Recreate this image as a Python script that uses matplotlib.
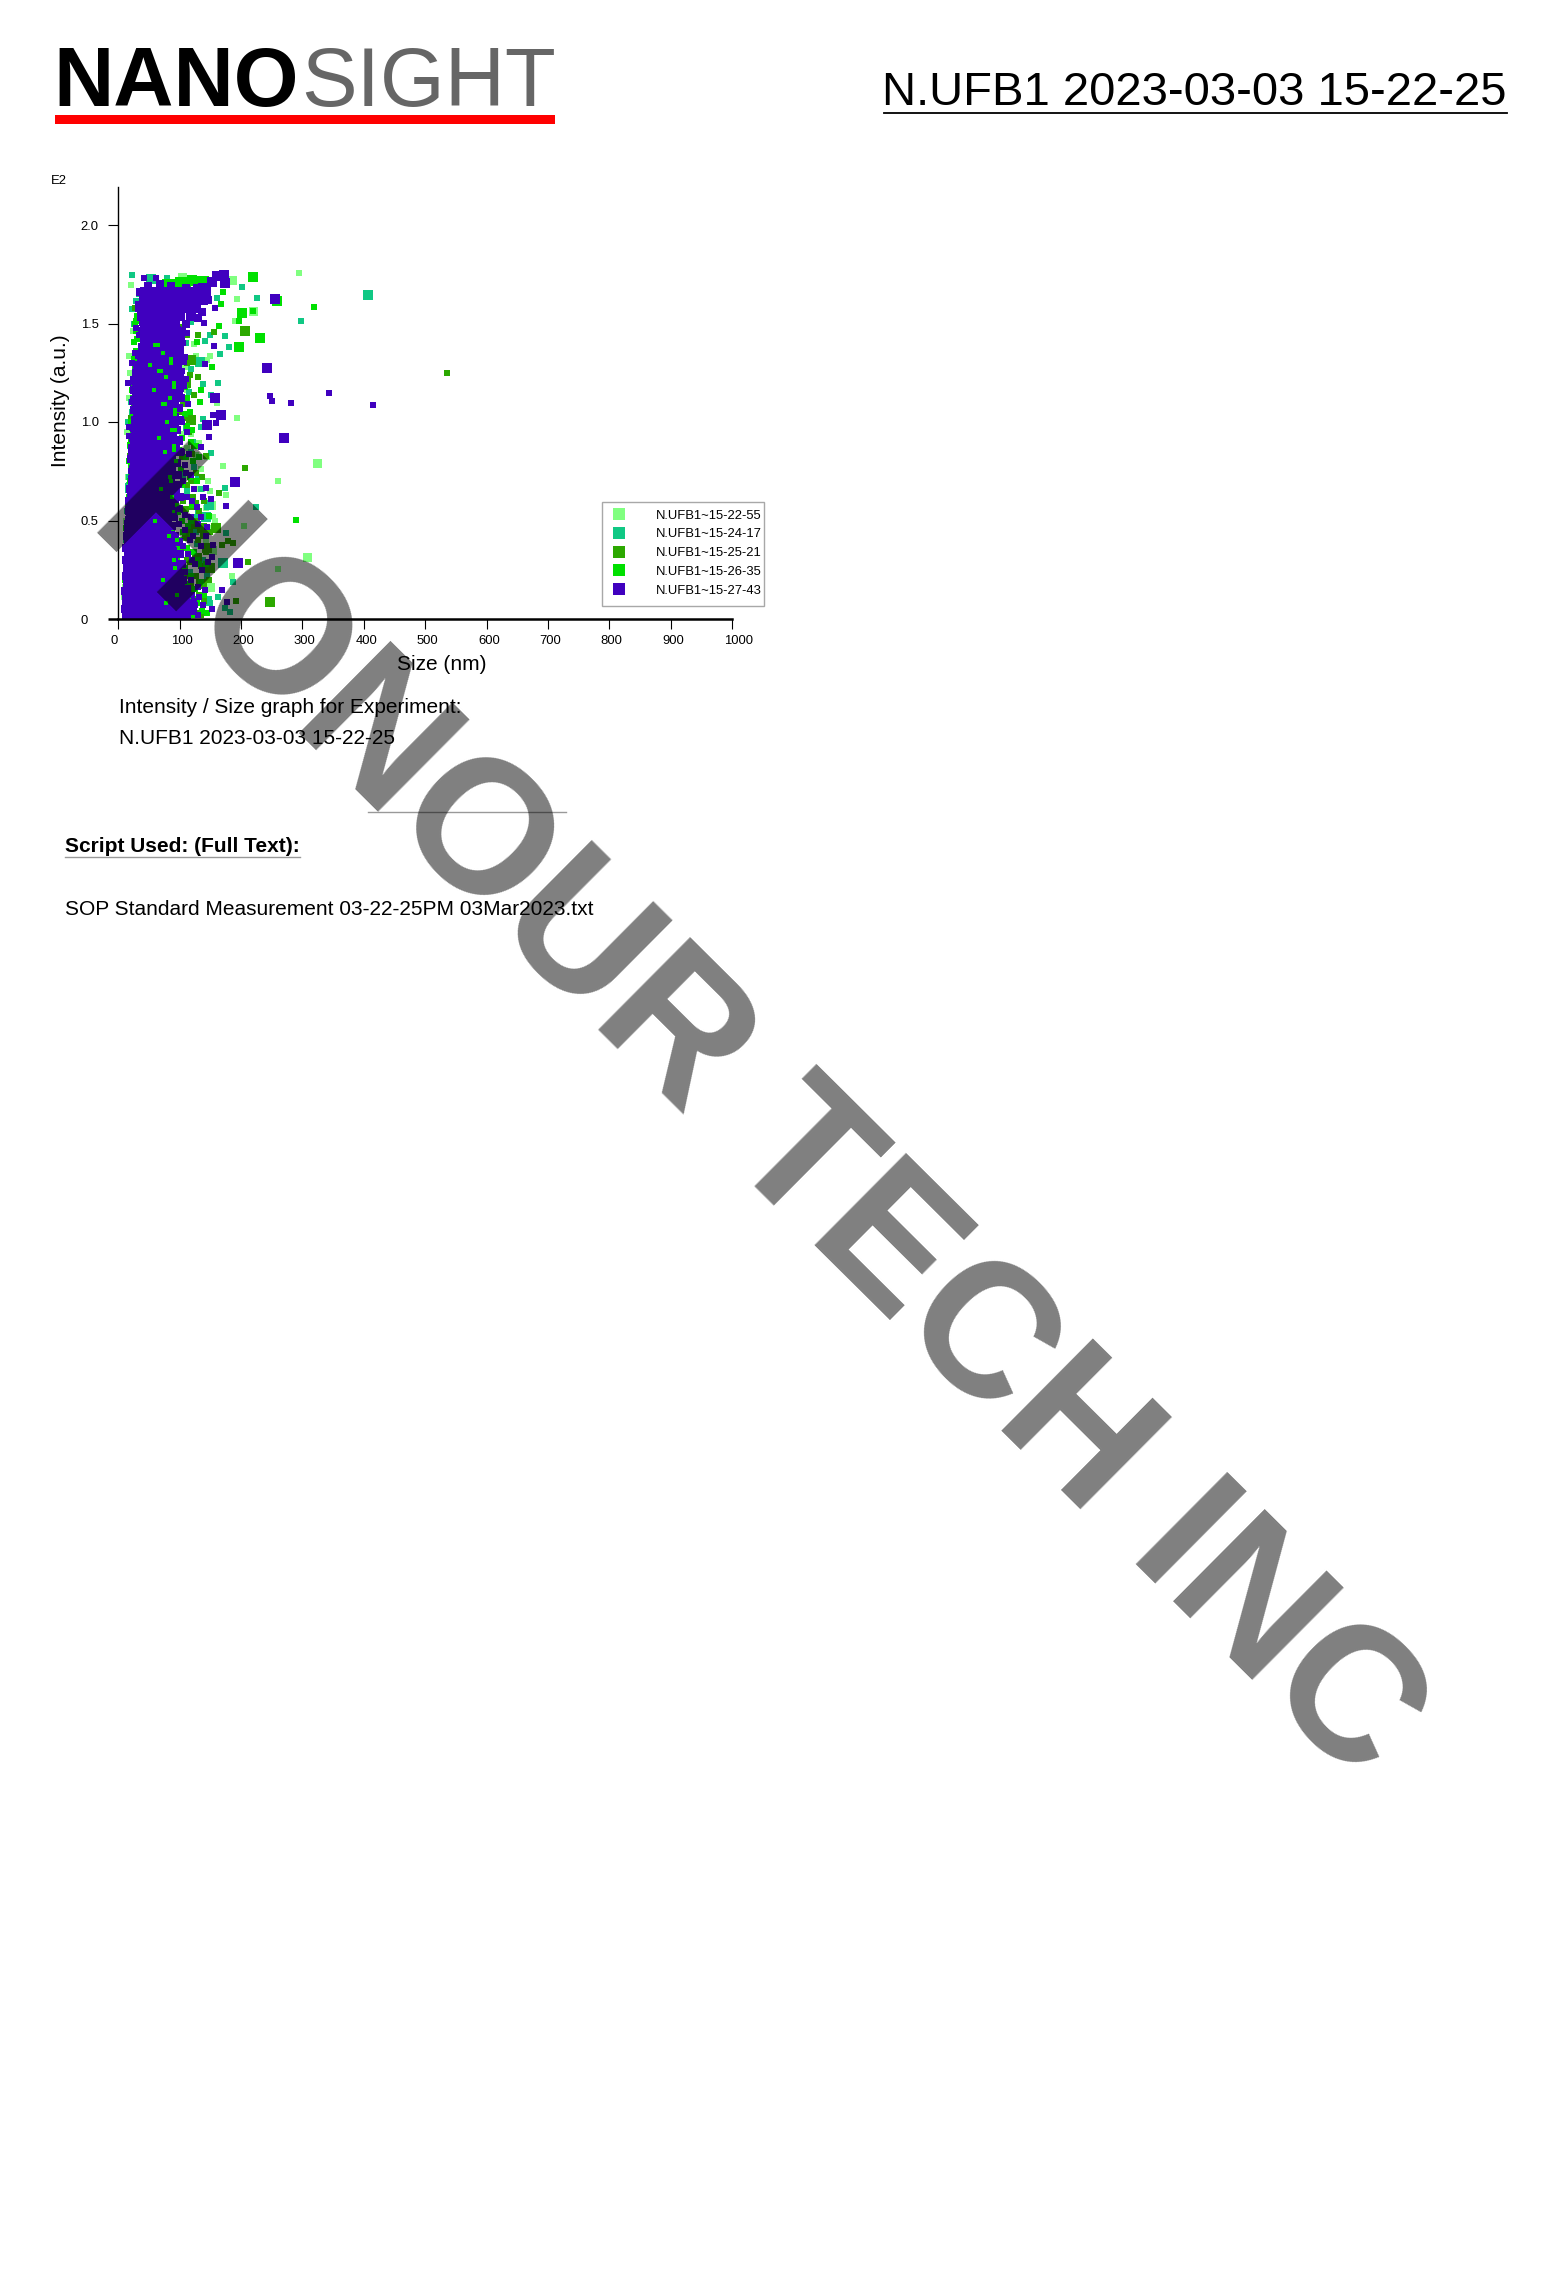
import matplotlib
matplotlib.use("Agg")
import matplotlib.pyplot as plt
from matplotlib.lines import Line2D
from matplotlib.patches import Rectangle
from matplotlib.transforms import ScaledTranslation

plt.rcParams['font.family'] = ['Liberation Sans', 'DejaVu Sans']

W, H = 1557, 2272

x_ticks = [0, 100, 200, 300, 400, 500, 600, 700, 800, 900, 1000]
y_ticks = [0, 0.5, 1.0, 1.5, 2.0]
y_tick_labels = ['0', '0.5', '1.0', '1.5', '2.0']
series_names = ['N.UFB1~15-22-55', 'N.UFB1~15-24-17', 'N.UFB1~15-25-21', 'N.UFB1~15-26-35', 'N.UFB1~15-27-43']

# light green series
light_small = [(294,1.754),(193,1.624),(190,1.513),(20,1.695),(193,1.022),(171,0.775),(260,0.70),(260,0.254),(185,0.218),
               (205,0.472),(175,0.629),(142,0.563),(158,0.497),(149,1.335),(127,1.337),(145,1.315),(123,1.396),(161,1.096),
               (18,1.335),(18,1.123),(30,1.335),(131,0.893),(95,0.904),(11,0.162),(9,0.112),(112,1.16),(118,0.94),(126,0.83),
               (134,0.76),(146,0.7),(120,0.6),(128,0.46),(142,0.4),(138,0.12),(12,0.5),(15,0.72),(24,1.46),(108,1.28),(136,0.66),(144,0.82),
               (104,1.62),(118,1.55),(112,0.87),(128,0.66),(104,0.94),(116,0.52),(150,0.65),(154,0.52),(146,0.46),(14,0.95),(19,1.25)]
light_big = [(185,1.721),(104,1.736),(220,1.563),(323,0.793),(307,0.315),(151,0.579),(152,0.35),(150,0.16)]

# teal series
teal_small = [(22,1.744),(201,1.685),(226,1.631),(160,1.631),(298,1.515),(118,1.506),(149,1.444),(174,1.439),(141,1.411),
              (181,1.383),(165,1.345),(162,1.2),(138,1.195),(151,1.135),(138,1.015),(29,1.614),(34,1.65),(22,1.574),(134,0.975),
              (151,0.843),(104,1.716),(79,1.731),(225,0.568),(175,0.437),(186,0.188),(173,0.056),(148,0.10),(162,0.112),
              (149,0.081),(182,0.036),(174,0.665),(22,1.05),(110,1.40),(104,1.33),(115,1.15),(110,0.97),(118,0.85),(124,0.77),
              (130,0.72),(135,0.66),(140,0.60),(130,0.55),(125,0.52),(132,0.46),(128,0.38),(138,0.30),(145,0.22),(140,0.08),
              (17,0.68),(18,0.72),(16,1.0),(20,1.1),(24,1.2),(28,1.32),(13,0.4),(12,0.2),
              (112,0.65),(122,0.9),(126,0.44),(116,0.24),(106,0.73),(118,1.27),(26,1.5),(19,0.88),(14,0.55)]
teal_big = [(53,1.726),(406,1.646),(133,1.305),(170,0.284),(19,0.665),(148,0.58),(142,0.52)]

# dark green series
dark_small = [(206,0.768),(191,0.091),(186,0.386),(211,0.289),(169,0.376),(178,0.396),(164,0.64),(535,1.249),(129,1.442),
              (156,1.459),(130,1.23),(123,1.137),(108,1.089),(108,1.022),(123,0.876),(143,0.827),(19,0.827),(20,1.022),
              (28,1.188),(27,1.58),(144,1.65),(112,1.30),(116,1.24),(100,1.18),(106,1.10),(100,1.05),(115,0.95),(120,0.84),
              (108,0.78),(126,0.74),(112,0.68),(122,0.62),(110,0.56),(128,0.50),(116,0.44),(130,0.40),(120,0.34),(112,0.30),
              (135,0.27),(126,0.22),(118,0.17),(131,0.12),(140,0.09),(122,0.06),(112,0.02),(135,0.02),(148,0.20),(143,0.34),
              (150,0.44),(20,0.60),(19,0.50),(21,0.44),(18,0.38),(15,0.25),(140,0.60),(132,0.55),
              (104,0.82),(118,0.70),(136,0.72),(106,0.60),(124,0.47),(138,0.42),(104,0.36),(116,0.29),(140,0.18),(108,0.22),(124,0.15),
              (108,0.08),(128,0.03),(112,1.44),(118,1.55),(106,1.48),(22,0.56),(17,0.30),(24,0.92)]
dark_big = [(206,1.462),(247,0.086),(159,0.462),(118,1.315),(110,1.20),(118,1.012),(145,0.36),(128,0.31),(150,0.26),(136,0.46),
            (124,0.58),(112,0.42),(134,0.18)]

# bright green series
bright_small = [(318,1.584),(167,1.599),(196,1.511),(164,1.487),(220,1.563),(128,1.404),(153,1.281),(135,1.162),(133,1.102),
                (290,0.504),(148,0.523),(29,1.513),(25,1.404),(20,0.878),(19,0.883),(24,0.772),(144,0.03),(170,1.662),
                (108,1.04),(112,0.98),(104,0.92),(118,0.90),(98,0.86),(110,0.82),(122,0.80),(102,0.76),(116,0.72),(128,0.70),
                (96,0.66),(108,0.62),(120,0.58),(92,0.55),(104,0.50),(114,0.47),(88,0.44),(100,0.40),(112,0.36),(124,0.34),
                (96,0.30),(108,0.26),(118,0.22),(90,0.20),(102,0.16),(116,0.12),(128,0.08),(96,0.06),(110,0.03),(122,0.02),
                (136,0.04),(104,0.10),(125,0.15),(132,0.28),(135,0.19),(12,0.02),(11,0.08),(14,0.14),(10,0.20),(13,0.26),
                (16,0.34),(14,0.40),(12,0.46),(17,0.52),(15,0.58),(18,0.66),(21,0.74),(17,0.80),(22,0.86),(24,0.94),(20,1.00),
                (26,1.08),(22,1.16),(28,1.24),(25,1.32),(30,1.42),(27,1.50),(32,1.58),
                (13,0.06),(12,0.11),(13,0.17),(12,0.23),(14,0.30),(14,0.37),(15,0.44),(15,0.50),(16,0.55),(17,0.62),(19,0.70),
                (20,0.77),(20,0.83),(21,0.90),(22,0.97),(24,1.04),(24,1.12),(25,1.20),(27,1.28),(28,1.36),(29,1.46),(30,1.54),
                (112,1.12),(108,1.18),(116,1.05),(120,0.96),(126,0.88),(132,0.82),(104,0.68),(118,0.50),(106,0.44),(120,0.42),
                (98,0.36),(128,0.30),(104,0.22),(112,0.18),(122,0.10),(100,0.02),(116,0.03),(140,0.12),(142,0.28)]
bright_big = [(220,1.736),(258,1.614),(201,1.555),(230,1.426),(123,1.718),(139,1.716),(107,1.706),(90,1.70),(100,1.71),
              (110,1.71),(120,1.72),(132,1.715),(70,1.69),(80,1.70),(196,1.38)]

# violet series: isolated marks
violet_small = [(157,1.579),(139,1.503),(156,1.386),(141,1.294),(154,1.036),(159,0.995),(148,0.924),(134,0.873),(143,0.665),
                (138,0.619),(151,0.609),(175,0.574),(144,0.467),(154,0.376),(152,0.315),(169,0.147),(177,0.086),(141,0.147),
                (125,0.071),(152,0.051),(15,1.20),(17,0.93),(18,0.975),(28,1.475),(22,1.30),(247,1.132),(250,1.107),(281,1.096),
                (343,1.147),(415,1.086),(100,1.58),(108,1.50),(112,1.45),(105,1.40),(108,1.33),(103,1.26),(110,1.22),(100,1.15),
                (113,1.09),(104,1.00),(112,0.95),(100,0.90),(115,0.84),(108,0.78),(118,0.73),(106,0.70),(124,0.66),(112,0.62),
                (128,0.57),(100,0.56),(118,0.52),(130,0.48),(108,0.45),(122,0.42),(134,0.37),(113,0.33),(125,0.28),(137,0.25),
                (118,0.20),(130,0.16),(110,0.13),(124,0.09),(138,0.07),(116,0.04),(130,0.02),(27,1.35),(24,1.22),(22,1.10),
                (20,0.85),(21,0.75),(14,0.33),(13,0.28),(16,0.56),(42,1.73),(61,1.73),
                (104,0.85),(110,0.74),(98,0.68),(120,0.60),(108,0.53),(98,0.48),(116,0.40),(106,0.37),(120,0.30),(108,0.24),(104,0.17),
                (120,0.12),(132,0.11),(106,0.08),(146,0.29),(142,0.42),(135,0.52),(32,1.60),(35,1.55),(33,1.44)]
violet_big = [(160,1.741),(172,1.746),(174,1.706),(152,1.712),(138,1.68),(255,1.624),(242,1.274),(157,1.122),(167,1.036),
              (144,0.985),(270,0.919),(190,0.695),(195,0.284),(143,1.66)]

# violet series: medium marks roughening both edges of the dense band
violet_edge = [(36,1.66),(48,1.69),(68,1.70),(86,1.69),(110,1.68),(128,1.68),(146,1.62),(137,1.56),(130,1.53),(110,1.50),(103,1.46),
               (102,1.42),(100,1.37),(105,1.31),(100,1.24),(105,1.19),(102,1.12),(98,1.07),(100,1.01),(96,0.96),(98,0.91),(100,0.85),
               (95,0.79),(97,0.73),(94,0.68),(100,0.62),(99,0.56),(90,0.52),(88,0.47),(92,0.42),(98,0.39),(101,0.33),(104,0.28),
               (106,0.20),(112,0.15),(118,0.08),(122,0.04),
               (33,1.58),(40,1.51),(38,1.46),(41,1.42),(38,1.38),(34,1.34),(31,1.29),(28,1.25),(26,1.21),(25,1.16),(25,1.11),(26,1.06),
               (27,1.01),(25,0.97),(23,0.92),(22,0.87),(21,0.81),(23,0.76),(22,0.71),(19,0.66),(18,0.60),(17,0.55),(15,0.48),(14,0.42),
               (13,0.36),(13,0.30),(12,0.22),(11,0.14),(10,0.05)]

# violet series: the dense band, by intensity level
violet_core_levels = [1.66,1.62,1.58,1.54,1.50,1.46,1.42,1.38,1.34,1.30,1.26,1.22,1.18,1.14,1.10,1.06,1.02,0.98,0.94,0.90,
                      0.86,0.82,0.78,0.74,0.70,0.66,0.62,0.58,0.54,0.50,0.46,0.42,0.38,0.34,0.30,0.26,0.22,0.18,0.14,0.10,0.06,0.02]
violet_core_sizes = [[44,57,70,85,98,110,122,134],[42,54,66,79,92,104,116,128,138],[40,52,64,77,90,103,115,127],
                     [38,50,62,75,88,100,118],[44,56,68,80,92],[46,58,70,82,94],[47,59,71,83,92],[45,57,69,81,92],
                     [42,55,67,79,91,99],[38,50,63,75,87,96],[34,46,59,71,83,94],[32,44,57,69,81,93,99],[30,42,55,67,79,91,98],
                     [30,42,54,66,78,90,97],[31,43,55,67,79,90],[32,44,56,68,80,88],[32,44,56,68,80,90],[30,42,54,66,78,90],
                     [28,40,52,64,76,88],[27,39,51,63,75,87],[26,38,50,62,74,86,92],[26,38,50,62,74,86],[27,39,51,63,75,86],
                     [26,38,50,62,74,85],[24,36,48,60,72,84],[23,35,47,59,71,84,92],[22,34,46,58,70,82,90],[21,33,45,57,69,81,90],
                     [20,32,44,56,68,80],[19,31,43,55,67,79],[18,30,42,54,66,78],[18,30,42,54,66,78,84],[17,29,41,53,65,77,86],
                     [17,29,41,53,65,77,88],[17,29,41,53,65,77,89],[16,28,40,52,64,76,88,96],[16,28,40,52,64,76,88,98],
                     [15,27,39,51,63,75,87,99],[15,27,39,51,63,75,87,100],[14,26,38,50,62,74,86,98,108],
                     [14,26,38,50,62,74,86,98,110],[14,26,38,50,62,74,86,98,110]]

# bright green marks seen through gaps of the dense band
gap_marks = [(60,1.39),(64,1.39),(72,1.35),(85,1.32),(85,1.30),(52,1.29),(66,1.26),(70,1.26),(78,1.23),(90,1.2),(90,1.18),(58,1.16),
             (84,1.12),(72,1.09),(76,1.09),(92,1.06),(92,1.04),(80,1.0),(88,0.96),(92,0.96),(66,0.92),(90,0.88),(90,0.86),(76,0.85),
             (94,0.80),(84,0.72),(86,0.70),(70,0.66),(88,0.62),(60,0.50),(82,0.42),(90,0.3),(72,0.2),(95,0.12),(78,0.08),
             (96,0.40),(92,0.26),(98,0.54),(96,0.58)]

COLORS = ['#80FF80', '#10C884', '#2CA800', '#00E000', '#4000BF']


def msize(px):
    return (px * 0.72) ** 2


def fx(px):
    return px / W


def fy(py):
    return 1 - py / H


fig = plt.figure(figsize=(W / 100, H / 100), dpi=100, facecolor='white')
ax = fig.add_axes([fx(118.4), fy(619), (732 - 118.4) / W, (619 - 187) / H])
ax.set_xlim(0, 1000)
ax.set_ylim(0, 432 / 197)


def draw(points, color, px):
    ax.scatter([p[0] for p in points], [p[1] for p in points], marker='s', s=msize(px), color=color, linewidths=0)


draw(light_small, COLORS[0], 6)
draw(light_big, COLORS[0], 9)
draw(teal_small, COLORS[1], 6)
draw(teal_big, COLORS[1], 10)
draw(dark_small, COLORS[2], 6)
draw(dark_big, COLORS[2], 10)
draw(bright_small, COLORS[3], 6)
draw(bright_big, COLORS[3], 10)
core = [(x, lvl) for lvl, row in zip(violet_core_levels, violet_core_sizes) for x in row]
draw(core, COLORS[4], 9.5)
draw(violet_edge, COLORS[4], 8)
draw(gap_marks, COLORS[3], 3.5)
draw(violet_small, COLORS[4], 6)
draw(violet_big, COLORS[4], 9.5)

for s in ('top', 'right'):
    ax.spines[s].set_visible(False)
ax.spines['left'].set_linewidth(1.0)
ax.spines['bottom'].set_linewidth(1.8)
ax.set_xticks(x_ticks)
ax.set_xticklabels([str(v) for v in x_ticks], fontsize=9.4)
ax.set_yticks(y_ticks)
ax.set_yticklabels(y_tick_labels, fontsize=9.4, ha='left')
ax.tick_params(axis='x', length=7.2, width=0.8, pad=4.3)
ax.tick_params(axis='y', length=7.2, width=0.8, pad=20)
ax.yaxis.get_major_ticks()[0].tick1line.set_markeredgewidth(1.8)
for lab, v in zip(ax.get_xticklabels(), x_ticks):
    dx = -4.5 if v == 0 else (7 if v == 1000 else 2.3)
    lab.set_transform(lab.get_transform() + ScaledTranslation(dx / 100, 0, fig.dpi_scale_trans))

ax.add_patch(Rectangle((fx(602), fy(606)), 162 / W, 104 / H, transform=fig.transFigure, clip_on=False,
                       facecolor='white', edgecolor='#A8A8A8', linewidth=1.0, zorder=4))
handles = [Line2D([], [], linestyle='none', marker='s', markersize=8, markerfacecolor=c, markeredgewidth=0) for c in COLORS]
leg = ax.legend(handles, series_names, loc='upper left', bbox_to_anchor=(fx(607.5), fy(509.5)),
                bbox_transform=fig.transFigure, fontsize=9.4, frameon=False, borderaxespad=0, borderpad=0,
                labelspacing=0.505, handletextpad=2.0, handlelength=1.7)
leg.set_zorder(5)

fig.text(fx(51), fy(181), 'E2', fontsize=9.4, va='center')
fig.text(fx(61), fy(401), 'Intensity (a.u.)', fontsize=15, rotation=90, ha='center', va='center')
fig.text(fx(442), fy(665), 'Size (nm)', fontsize=15, ha='center', va='center')
fig.text(fx(119), fy(707.5), 'Intensity / Size graph for Experiment:', fontsize=15, va='center')
fig.text(fx(119), fy(738.5), 'N.UFB1 2023-03-03 15-22-25', fontsize=15, va='center')
fig.text(fx(65), fy(846.5), 'Script Used: (Full Text):', fontsize=15, fontweight='bold', va='center')
fig.text(fx(65), fy(909.5), 'SOP Standard Measurement 03-22-25PM 03Mar2023.txt', fontsize=15, va='center')

fig.add_artist(Line2D([fx(368), fx(566)], [fy(812), fy(812)], color='#999999', lw=1.0))
fig.add_artist(Line2D([fx(65), fx(300)], [fy(857), fy(857)], color='#999999', lw=1.0))

fig.text(fx(53), fy(106), 'NANO', fontsize=60, fontweight='bold', color='black', va='baseline')
fig.text(fx(301), fy(106), 'SIGHT', fontsize=60, color='#666666', va='baseline')
fig.patches.append(Rectangle((fx(55), fy(124)), 500 / W, 9 / H, transform=fig.transFigure, color='#FF0000', lw=0))

fig.text(fx(1507), fy(105), 'N.UFB1 2023-03-03 15-22-25', fontsize=33.9, ha='right', va='baseline')
fig.add_artist(Line2D([fx(884), fx(1507)], [fy(113), fy(113)], color='black', lw=1.3))

fig.text(fx(757), fy(1120), 'HONOUR TECH INC', fontsize=136.5, fontweight='bold', color='black', alpha=0.5,
         rotation=-44.8, rotation_mode='anchor', ha='center', va='center', zorder=20)

fig.savefig('out.png', dpi=100)
